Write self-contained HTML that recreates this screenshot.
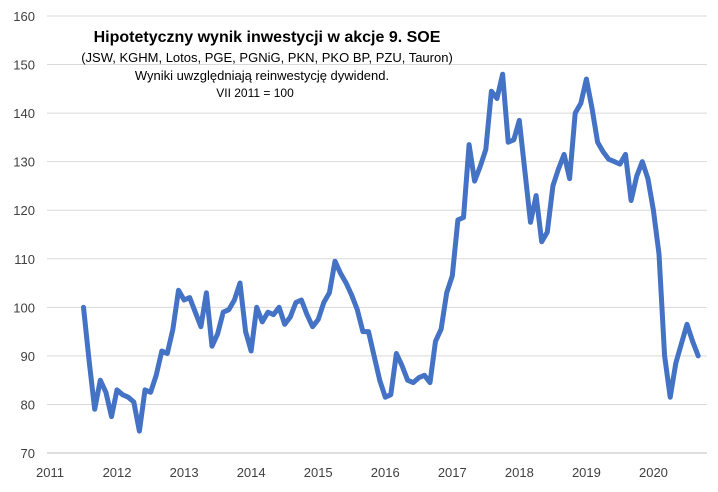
<!DOCTYPE html>
<html><head><meta charset="utf-8"><style>
body{margin:0;background:#fff;}
svg{display:block;font-family:"Liberation Sans",sans-serif;}
</style></head><body>
<svg id="c" width="718" height="492">
<rect x="0" y="0" width="718" height="492" fill="#fff"/>
<g id="grid"></g>
<g id="yt"></g>
<g id="xt"></g>
<text x="267" y="42" text-anchor="middle" font-size="16" font-weight="bold" fill="#000">Hipotetyczny wynik inwestycji w akcje 9. SOE</text>
<text x="267" y="62" text-anchor="middle" font-size="13" fill="#000">(JSW, KGHM, Lotos, PGE, PGNiG, PKN, PKO BP, PZU, Tauron)</text>
<text x="262" y="80" text-anchor="middle" font-size="13" fill="#000">Wyniki uwzględniają reinwestycję dywidend.</text>
<text x="255" y="97" text-anchor="middle" font-size="12" fill="#000">VII 2011  = 100</text>
<path id="line" fill="none" stroke="#4472C4" stroke-width="5" stroke-linejoin="round" stroke-linecap="round"/>
</svg>
<script>
const startYear = 2011, startMonth = 6; // July 2011 (0-based month)
const values = [100,89,79,85,82.5,77.5,83,82,81.5,80.5,74.5,83,82.5,86,91,90.5,95.5,103.5,101.5,102,99,96,103,92,94.5,99,99.5,101.5,105,95,91,100,97,99,98.5,100,96.5,98,101,101.5,98.5,96,97.5,101,103,109.5,107,105,102.5,99.5,95,95,90,85,81.5,82,90.5,88,85,84.5,85.5,86,84.5,93,95.5,103,106.5,118,118.5,133.5,126,129,132.5,144.5,143,148,134,134.5,138.5,128,117.5,123,113.5,115.5,125,128.5,131.5,126.5,140,142,147,141,134,132,130.5,130,129.5,131.5,122,127,130,126.5,120,111,90,81.5,88.5,92.5,96.5,93,90];
const yTicks = [70,80,90,100,110,120,130,140,150,160];
const xTicks = [2011,2012,2013,2014,2015,2016,2017,2018,2019,2020];
const NS='http://www.w3.org/2000/svg';
function xs(t){return 50 + (t-2011)*67.05;}
function ys(v){return 453 - (v-70)*4.856;}
const grid=document.getElementById('grid'), yt=document.getElementById('yt'), xt=document.getElementById('xt');
yTicks.forEach(v=>{
  const l=document.createElementNS(NS,'line');
  l.setAttribute('x1',47);l.setAttribute('x2',707);l.setAttribute('y1',ys(v));l.setAttribute('y2',ys(v));
  l.setAttribute('stroke',v===70?'#bfbfbf':'#d9d9d9');l.setAttribute('stroke-width',1);
  
  
  grid.appendChild(l);
  const t=document.createElementNS(NS,'text');
  t.setAttribute('x',35);t.setAttribute('y',ys(v)+5);t.setAttribute('text-anchor','end');t.setAttribute('font-size','13');t.setAttribute('fill','#404040');
  t.textContent=v;
  
  
  yt.appendChild(t);
});
xTicks.forEach(y=>{
  const t=document.createElementNS(NS,'text');
  t.setAttribute('x',xs(y));t.setAttribute('y',477);t.setAttribute('text-anchor','middle');t.setAttribute('font-size','13');t.setAttribute('fill','#404040');
  t.textContent=y;
  
  
  xt.appendChild(t);
});
let d='';
values.forEach((v,i)=>{
  const t=startYear+(startMonth+i)/12;
  d+=(i?'L':'M')+xs(t).toFixed(1)+','+ys(v).toFixed(1);
});
document.getElementById('line').setAttribute('d',d);
</script>
</body></html>
